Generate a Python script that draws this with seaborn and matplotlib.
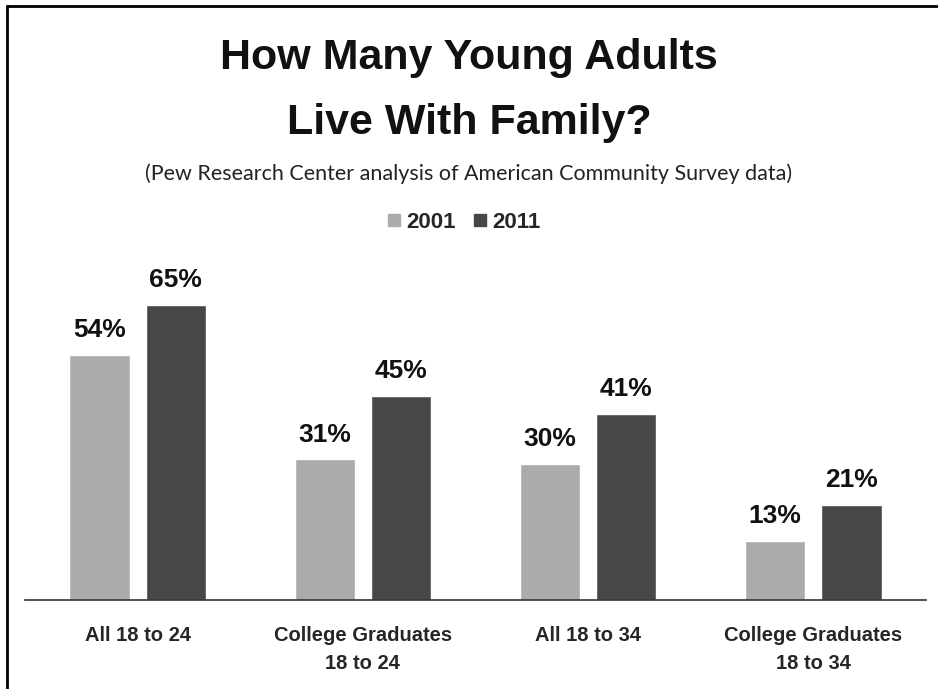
import matplotlib
matplotlib.use("Agg")
import matplotlib.pyplot as plt
import seaborn as sns
import pandas as pd
from matplotlib.lines import Line2D

categories = ["All 18 to 24", "College Graduates\n18 to 24", "All 18 to 34", "College Graduates\n18 to 34"]
years = ["2001", "2011"]
values_2001 = [54, 31, 30, 13]
values_2011 = [65, 45, 41, 21]
colors = ["#ababab", "#474747"]

df = pd.DataFrame({
    "category": categories * 2,
    "year": [years[0]] * 4 + [years[1]] * 4,
    "value": values_2001 + values_2011,
})

sns.set_theme(style="white")
plt.rcParams["font.family"] = ["Liberation Sans", "DejaVu Sans"]

W, H = 938, 689
fig = plt.figure(figsize=(W / 100, H / 100), dpi=100)
ax = fig.add_axes([25 / W, (H - 600) / H, 901 / W, 318 / H])

sns.barplot(data=df, x="category", y="value", hue="year", palette=colors,
            width=0.676, gap=0.21, ax=ax, legend=False, saturation=1)

ax.set_xlim(-0.5, 3.5)
ax.set_ylim(0, 70)
ax.set_xlabel("")
ax.set_ylabel("")
ax.set_yticks([])
for s in ["left", "right", "top"]:
    ax.spines[s].set_visible(False)
ax.spines["bottom"].set_color("#333333")
ax.spines["bottom"].set_linewidth(1.2)
ax.tick_params(axis="x", length=0, pad=19)
for lbl in ax.get_xticklabels():
    lbl.set_fontweight("bold")
    lbl.set_fontsize(14.5)
    lbl.set_linespacing(1.55)
    lbl.set_verticalalignment("top")

for cont in ax.containers:
    ax.bar_label(cont, labels=[f"{int(v)}%" for v in cont.datavalues],
                 padding=9, fontsize=19, fontweight="bold", color="#111111")

fig.text(0.5, (H - 69) / H, "How Many Young Adults", ha="center", va="baseline",
         fontsize=31, fontweight="bold", color="#111111")
fig.text(0.5, (H - 134) / H, "Live With Family?", ha="center", va="baseline",
         fontsize=31, fontweight="bold", color="#111111")
fig.text(0.5, (H - 180) / H,
         "(Pew Research Center analysis of American Community Survey data)",
         ha="center", va="baseline", fontsize=15.5, color="#222222",
         family=["Lato", "DejaVu Sans"])

handles = [Line2D([0], [0], marker="s", linestyle="", markersize=8,
                  markerfacecolor=c, markeredgecolor=c) for c in colors]
fig.legend(handles, years, loc="center", bbox_to_anchor=(462 / W, (H - 222) / H),
           ncol=2, frameon=False, handletextpad=0.05, columnspacing=0.6,
           handlelength=1.0, prop={"weight": "bold", "size": 16})

# frame lines (left and top) like the reference
fig.add_artist(Line2D([7 / W, 7 / W], [0, 1 - 6 / H], color="black", lw=2,
                      transform=fig.transFigure))
fig.add_artist(Line2D([7 / W, 1], [1 - 6 / H, 1 - 6 / H], color="black", lw=2,
                      transform=fig.transFigure))

fig.savefig("out.png", dpi=100)
